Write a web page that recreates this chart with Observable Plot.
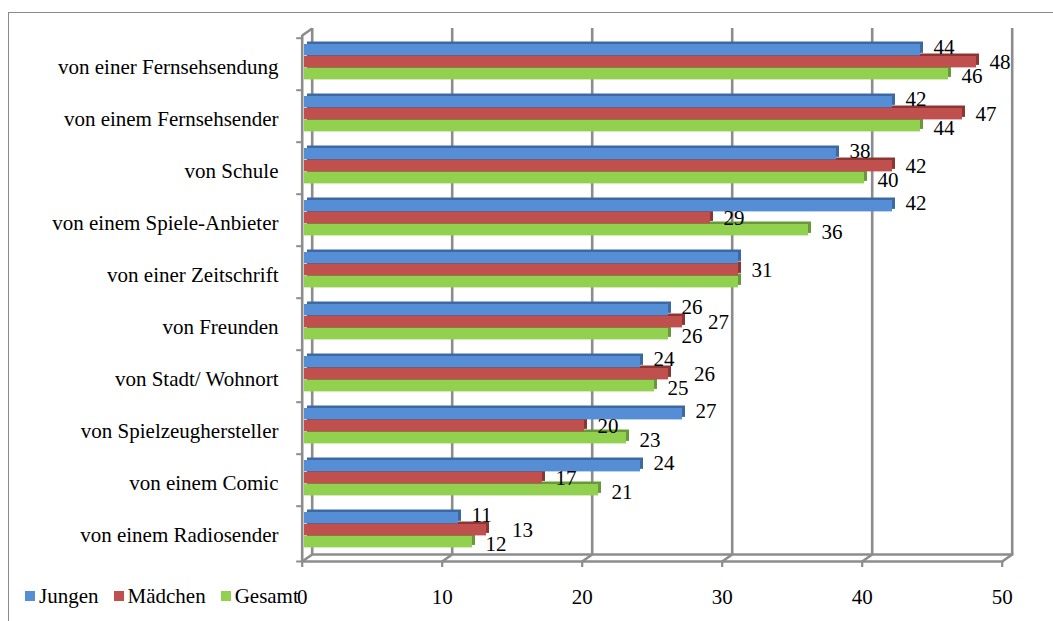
<!DOCTYPE html>
<html>
<head>
<meta charset="utf-8">
<script src="https://cdn.jsdelivr.net/npm/d3@7"></script>
<script src="https://cdn.jsdelivr.net/npm/@observablehq/plot@0.6"></script>
<style>
  html, body { margin: 0; padding: 0; background: #fff; overflow: hidden; }
  #chart { position: relative; width: 1053px; height: 621px; }
  #chart svg { position: absolute; left: 0; top: 0; }
  #border { position: absolute; left: 8px; top: 12px; right: 0; bottom: 0;
            border-left: 1.5px solid #8a8a8a; border-top: 1.5px solid #8a8a8a; pointer-events: none; }
  #legend { position: absolute; left: 25px; top: 584px; display: flex;
            font-family: "Liberation Serif", Tinos, "Times New Roman", "Nimbus Roman", "DejaVu Serif", serif;
            font-size: 21px; line-height: 24px; color: #000; }
  #legend .item { display: flex; align-items: center; margin-right: 15px; }
  #legend .sw { width: 10px; height: 10px; margin-right: 4px; }
</style>
</head>
<body>
<div id="chart"><div id="border"></div></div>
<script>
// Woher kennst du die Figur? – Anteile in Prozent
const categories = [
  "von einer Fernsehsendung",
  "von einem Fernsehsender",
  "von Schule",
  "von einem Spiele-Anbieter",
  "von einer Zeitschrift",
  "von Freunden",
  "von Stadt/ Wohnort",
  "von Spielzeughersteller",
  "von einem Comic",
  "von einem Radiosender"
];
const seriesNames = ["Jungen", "Mädchen", "Gesamt"];
const jungen   = [44, 42, 38, 42, 31, 26, 24, 27, 24, 11];
const maedchen = [48, 47, 42, 29, 31, 27, 26, 20, 17, 13];
const gesamt   = [46, 44, 40, 36, 31, 26, 25, 23, 21, 12];
const xTicks = [0, 10, 20, 30, 40, 50];

// long table: one row per category and series
const seriesValues = [jungen, maedchen, gesamt];
const rows = categories.flatMap((category, i) =>
  seriesNames.map((series, j) => ({category, series, value: seriesValues[j][i]}))
);

// label anchor in value units: the middle (Mädchen) label steps to the right
// when it would collide with the labels above and below it
const labelWidth = 1.9;
const labelRows = rows
  .filter(d => {
    const i = categories.indexOf(d.category);
    const same = jungen[i] === maedchen[i] && maedchen[i] === gesamt[i];
    return !same || d.series === "Mädchen";   // one label when all three coincide
  })
  .map(d => {
    let at = d.value;
    if (d.series === "Mädchen") {
      const i = categories.indexOf(d.category);
      const others = [jungen[i], gesamt[i]];
      const same = jungen[i] === maedchen[i] && maedchen[i] === gesamt[i];
      if (!same && others.some(v => Math.abs(v - d.value) < labelWidth)) {
        at = Math.max(d.value, ...others.map(v => v + labelWidth));
      }
    }
    return {...d, at};
  });

// layout
const W = 1053, H = 621;
const mTop = 35, mBottom = 60, mLeft = 301.7, mRight = 51.3;
const band = (H - mTop - mBottom) / categories.length;
const depthX = 10, depthY = -7;        // wall depth of the 3-D box
const barShift = 2.3;                  // bars sit slightly behind the front edge
const sideX = 3, sideY = -2.5;         // extrusion of each bar
const grid = "#8c8c8c";
const font = "'Liberation Serif', Tinos, 'Times New Roman', 'Nimbus Roman', 'DejaVu Serif', serif";

const style = {
  Jungen:    {front: "#558ed5", side: "#3c69a3", slot: [6, 18],  labelDy: -17},
  "Mädchen": {front: "#c0504d", side: "#8c3634", slot: [18, 30], labelDy: -2},
  Gesamt:    {front: "#92d050", side: "#67993a", slot: [30, 42], labelDy: 12}
};

// small path symbols for the box edges
const depthEdge = {draw(ctx) { ctx.moveTo(0, 0); ctx.lineTo(depthX, depthY); }};
const leftTick  = {draw(ctx) { ctx.moveTo(-6, 0); ctx.lineTo(0, 0); }};

function bars(series, layer) {
  const s = style[series];
  const opts = {
    x: "value", y: "category",
    insetTop: s.slot[0], insetBottom: band - s.slot[1]
  };
  return layer === "side"
    ? Plot.barX(rows.filter(d => d.series === series), {...opts, fill: s.side, dx: barShift + sideX, dy: sideY})
    : Plot.barX(rows.filter(d => d.series === series), {...opts, fill: s.front, dx: barShift});
}

function labels(series) {
  return Plot.text(labelRows.filter(d => d.series === series), {
    x: "at", y: "category", text: d => String(d.value),
    textAnchor: "start", dx: barShift + sideX + 10, dy: style[series].labelDy,
    fill: "#000", fontSize: 21, fontFamily: font
  });
}

const chart = Plot.plot({
  width: W, height: H,
  marginTop: mTop, marginBottom: mBottom, marginLeft: mLeft, marginRight: mRight,
  style: {fontFamily: font, fontSize: "21px", background: "transparent", overflow: "visible"},
  x: {domain: [0, 50], label: null},
  y: {domain: categories, padding: 0, label: null},
  marks: [
    // back wall grid and floor
    Plot.ruleX(xTicks, {x: d => d, dx: depthX, dy: depthY, stroke: grid, strokeWidth: 2.6}),
    Plot.frame({anchor: "bottom", dx: depthX, dy: depthY, stroke: grid, strokeWidth: 2.6}),
    Plot.dot(xTicks, {x: d => d, frameAnchor: "bottom", symbol: depthEdge, fill: "none", stroke: grid, strokeWidth: 2.6}),
    Plot.dot([0], {x: d => d, frameAnchor: "top", symbol: depthEdge, fill: "none", stroke: grid, strokeWidth: 2.6}),
    // front edges
    Plot.ruleX([0], {x: d => d, stroke: grid, strokeWidth: 2.6}),
    Plot.frame({anchor: "bottom", stroke: grid, strokeWidth: 2.6}),
    Plot.dot(categories, {y: d => d, frameAnchor: "left", dy: -band / 2, symbol: leftTick, fill: "none", stroke: grid, strokeWidth: 2}),
    Plot.dot([0], {x: d => d, frameAnchor: "bottom", symbol: leftTick, fill: "none", stroke: grid, strokeWidth: 2}),
    // bars: extrusion first, then front faces
    ...seriesNames.map(s => bars(s, "side")),
    ...seriesNames.map(s => bars(s, "front")),
    // value labels
    ...seriesNames.map(labels),
    // axes
    Plot.axisX({ticks: xTicks, tickSize: 6, tickPadding: 22, stroke: grid, strokeWidth: 2.2,
                fill: "#000", fontSize: 21, fontFamily: font, label: null}),
    Plot.axisY({tickSize: 0, tickPadding: 23.7, dy: 3, fill: "#000", fontSize: 21, fontFamily: font, label: null})
  ]
});

const host = document.getElementById("chart");
host.appendChild(chart);

// legend
const legend = document.createElement("div");
legend.id = "legend";
for (const s of seriesNames) {
  const item = document.createElement("div");
  item.className = "item";
  const sw = document.createElement("span");
  sw.className = "sw";
  sw.style.background = style[s].front;
  const label = document.createElement("span");
  label.textContent = s;
  item.append(sw, label);
  legend.appendChild(item);
}
host.appendChild(legend);
</script>
</body>
</html>
